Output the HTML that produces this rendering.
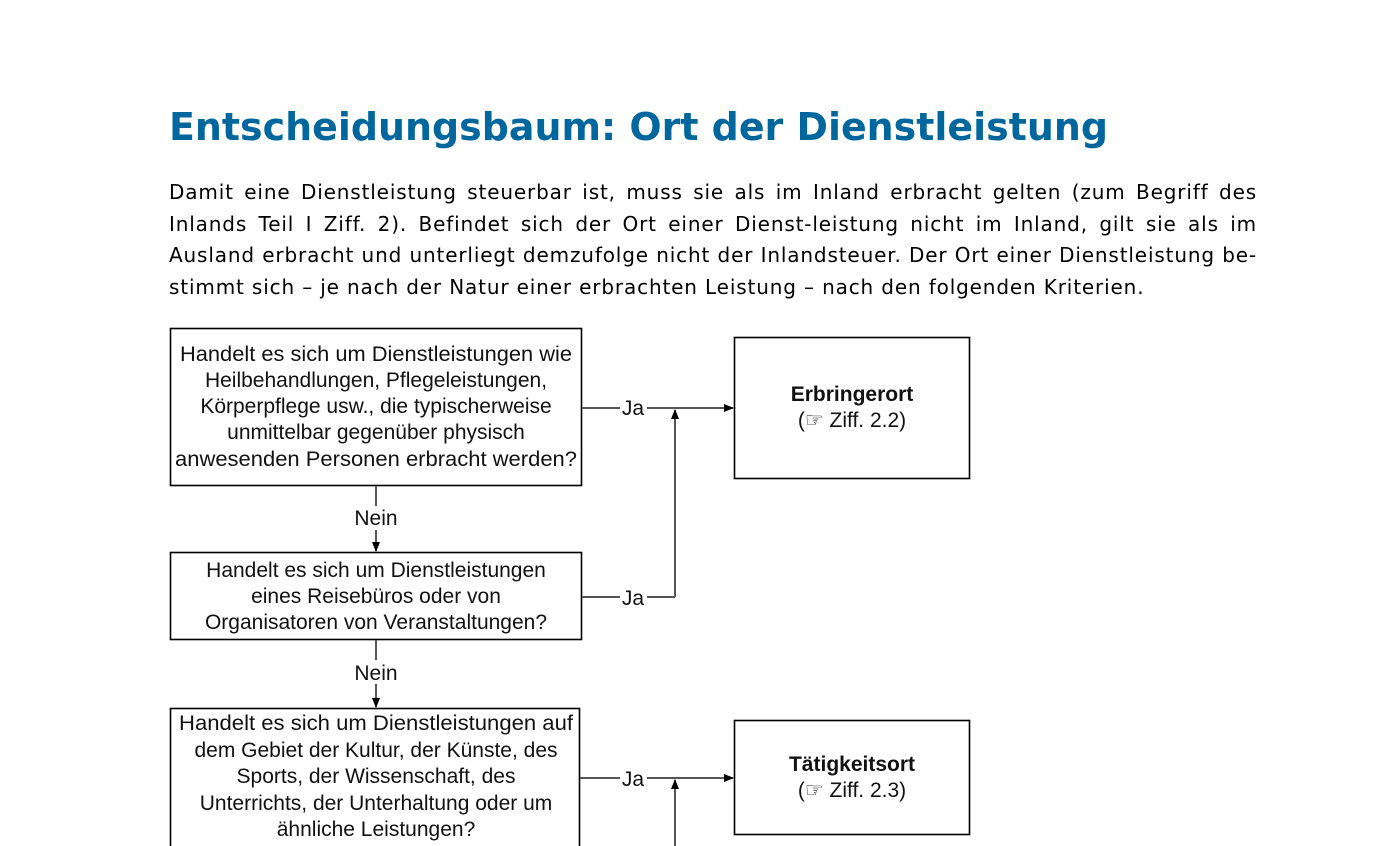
<!DOCTYPE html>
<html><head><meta charset="utf-8"><style>
body{margin:0;background:#fff;width:1397px;height:846px;overflow:hidden;position:relative}
.p{position:absolute;left:169px;top:177px;width:1088px;font-family:"DejaVu Sans",sans-serif;font-size:20px;letter-spacing:0.85px;line-height:31.5px;color:#000}
.p div{text-align:justify;text-align-last:justify;white-space:nowrap;height:31.5px}
.p div.l{text-align-last:left}
</style></head><body>
<svg width="1397" height="846" style="position:absolute;left:0;top:0">
<text x="169" y="140" font-family="DejaVu Sans,sans-serif" font-weight="bold" font-size="38" fill="#00679e" textLength="939" lengthAdjust="spacingAndGlyphs">Entscheidungsbaum: Ort der Dienstleistung</text>
<defs><marker id="a" markerWidth="10" markerHeight="10" refX="9" refY="5" orient="auto" markerUnits="userSpaceOnUse"><path d="M0,1 L10,5 L0,9z" fill="#000"/></marker></defs>
<g fill="#fff" stroke="#000" stroke-width="1.6">
<rect x="170.5" y="328.5" width="411" height="157"/>
<rect x="170.5" y="552.5" width="411" height="87"/>
<rect x="170.5" y="708.5" width="409" height="160"/>
<rect x="734.5" y="337.5" width="235" height="141"/>
<rect x="734.5" y="720.5" width="235" height="114"/>
</g>
<g stroke="#555" stroke-width="2" fill="none">
<path d="M582,408H620M647,408H733" marker-end="url(#a)"/>
<path d="M675,597V410" marker-end="url(#a)"/>
<path d="M582,597H620M647,597H675"/>
<path d="M376,486V506M376,530V551" marker-end="url(#a)"/>
<path d="M376,640V660M376,684V707" marker-end="url(#a)"/>
<path d="M580,778H620M647,778H733" marker-end="url(#a)"/>
<path d="M675,846V780" marker-end="url(#a)"/>
</g>
<g font-family="Liberation Sans,Arial,sans-serif" font-size="21" fill="#111" text-anchor="middle">
<text x="376" y="361" textLength="392" lengthAdjust="spacingAndGlyphs">Handelt es sich um Dienstleistungen wie</text>
<text x="376" y="387">Heilbehandlungen, Pflegeleistungen,</text>
<text x="376" y="413">Körperpflege usw., die typischerweise</text>
<text x="376" y="439">unmittelbar gegenüber physisch</text>
<text x="376" y="466" textLength="402" lengthAdjust="spacingAndGlyphs">anwesenden Personen erbracht werden?</text>
<text x="376" y="577">Handelt es sich um Dienstleistungen</text>
<text x="376" y="603">eines Reisebüros oder von</text>
<text x="376" y="629">Organisatoren von Veranstaltungen?</text>
<text x="376" y="730" textLength="394" lengthAdjust="spacingAndGlyphs">Handelt es sich um Dienstleistungen auf</text>
<text x="376" y="757">dem Gebiet der Kultur, der Künste, des</text>
<text x="376" y="783">Sports, der Wissenschaft, des</text>
<text x="376" y="810">Unterrichts, der Unterhaltung oder um</text>
<text x="376" y="836">ähnliche Leistungen?</text>
<text x="376" y="525">Nein</text>
<text x="376" y="680">Nein</text>
<text x="633" y="415">Ja</text>
<text x="633" y="605">Ja</text>
<text x="633" y="786">Ja</text>
<text x="852" y="401" font-weight="bold">Erbringerort</text>
<text x="852" y="427">(☞ Ziff. 2.2)</text>
<text x="852" y="771" font-weight="bold">Tätigkeitsort</text>
<text x="852" y="797">(☞ Ziff. 2.3)</text>
</g>
</svg>
<div class="p">
<div>Damit eine Dienstleistung steuerbar ist, muss sie als im Inland erbracht gelten (zum Begriff des</div>
<div>Inlands Teil I Ziff. 2). Befindet sich der Ort einer Dienst-leistung nicht im Inland, gilt sie als im</div>
<div>Ausland erbracht und unterliegt demzufolge nicht der Inlandsteuer. Der Ort einer Dienstleistung be-</div>
<div class="l">stimmt sich – je nach der Natur einer erbrachten Leistung – nach den folgenden Kriterien.</div>
</div>
</body></html>
